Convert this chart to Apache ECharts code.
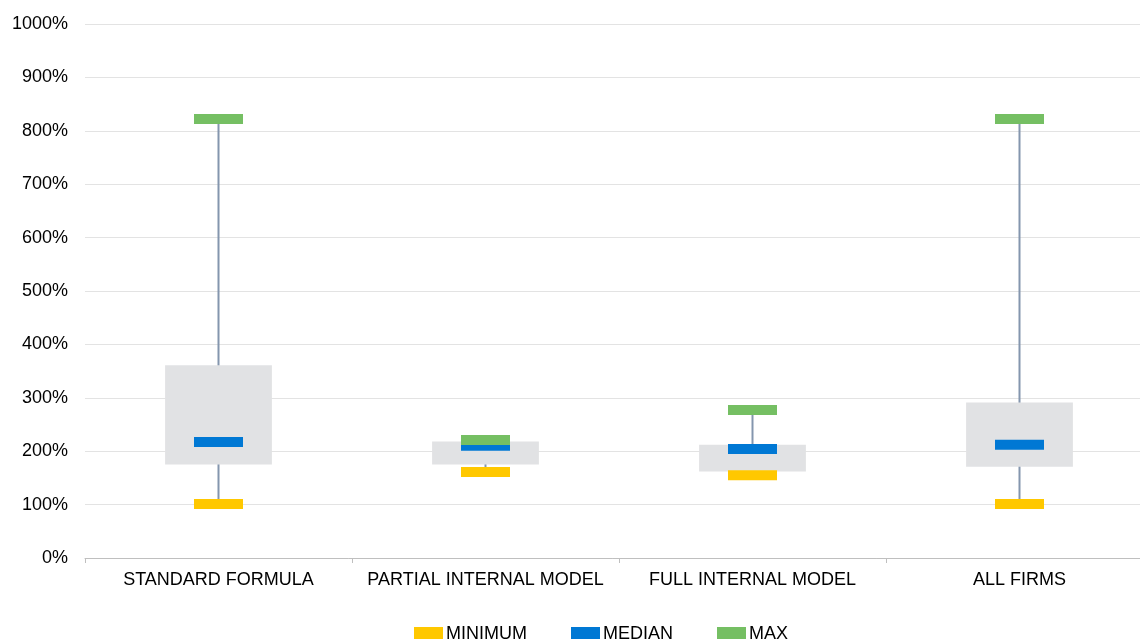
<!DOCTYPE html>
<html>
<head>
<meta charset="utf-8">
<script src="https://cdn.jsdelivr.net/npm/echarts@6/dist/echarts.min.js"></script>
<style>
html,body{margin:0;padding:0;background:#fff;overflow:hidden;}
#c{width:1140px;height:639px;}
</style>
</head>
<body>
<div id="c"></div>
<script>
const categories = ['STANDARD FORMULA', 'PARTIAL INTERNAL MODEL', 'FULL INTERNAL MODEL', 'ALL FIRMS'];
const minVals = [101, 161, 155, 101];
const q1Vals = [175, 175, 162, 171];
const medianVals = [217, 210, 204, 212];
const q3Vals = [361, 218, 212, 291];
const maxVals = [822, 221, 277, 822];
const yTicks = [0, 100, 200, 300, 400, 500, 600, 700, 800, 900, 1000];

const font = 'Liberation Sans, Arial, sans-serif';
const chart = echarts.init(document.getElementById('c'), null, {renderer: 'canvas'});

const whiskerData = categories.map((c, i) => [i, minVals[i], maxVals[i]]);
const boxData = categories.map((c, i) => [i, q1Vals[i], q3Vals[i]]);

chart.setOption({
  animation: false,
  backgroundColor: '#ffffff',
  grid: {left: 85, top: 24, width: 1068, height: 534, containLabel: false, outerBoundsMode: 'none'},
  legend: {
    top: 620,
    left: 409,
    itemWidth: 29,
    itemHeight: 14,
    itemGap: 44,
    icon: 'rect',
    textStyle: {fontFamily: font, fontSize: 18, color: '#000', padding: [0, 0, 0, -2]},
    data: ['MINIMUM', 'MEDIAN', 'MAX']
  },
  xAxis: {
    type: 'category',
    data: categories,
    boundaryGap: true,
    axisLine: {show: true, lineStyle: {color: '#bfbfbf', width: 1}},
    axisTick: {show: true, length: 5, interval: 0, lineStyle: {color: '#bfbfbf'}},
    axisLabel: {fontFamily: font, fontSize: 18, color: '#000', margin: 13, interval: 0},
    splitLine: {show: false}
  },
  yAxis: {
    type: 'value',
    min: yTicks[0],
    max: yTicks[yTicks.length - 1],
    interval: 100,
    axisLine: {show: false},
    axisTick: {show: false},
    axisLabel: {fontFamily: font, fontSize: 18, color: '#000', margin: 17, formatter: function (v) { return v + '%'; }},
    splitLine: {lineStyle: {color: '#e3e3e3', width: 1}}
  },
  series: [
    {
      type: 'custom',
      name: 'whisker',
      z: 1,
      data: whiskerData,
      renderItem: function (params, api) {
        const lo = api.coord([api.value(0), api.value(1)]);
        const hi = api.coord([api.value(0), api.value(2)]);
        return {
          type: 'line',
          shape: {x1: lo[0], y1: lo[1], x2: hi[0], y2: hi[1]},
          style: {stroke: '#8496ae', lineWidth: 2}
        };
      }
    },
    {
      type: 'custom',
      name: 'box',
      z: 2,
      data: boxData,
      renderItem: function (params, api) {
        const lo = api.coord([api.value(0), api.value(1)]);
        const hi = api.coord([api.value(0), api.value(2)]);
        const w = api.size([1, 0])[0] * 0.40;
        return {
          type: 'rect',
          shape: {x: lo[0] - w / 2, y: hi[1], width: w, height: lo[1] - hi[1]},
          style: {fill: '#e1e2e4'}
        };
      }
    },
    {
      type: 'scatter', name: 'MINIMUM', z: 3,
      symbol: 'rect', symbolSize: [49, 10],
      itemStyle: {color: '#ffc800', opacity: 1},
      data: minVals
    },
    {
      type: 'scatter', name: 'MEDIAN', z: 4,
      symbol: 'rect', symbolSize: [49, 10],
      itemStyle: {color: '#0078d4', opacity: 1},
      data: medianVals
    },
    {
      type: 'scatter', name: 'MAX', z: 5,
      symbol: 'rect', symbolSize: [49, 10],
      itemStyle: {color: '#75bf63', opacity: 1},
      data: maxVals
    }
  ]
});
</script>
</body>
</html>
